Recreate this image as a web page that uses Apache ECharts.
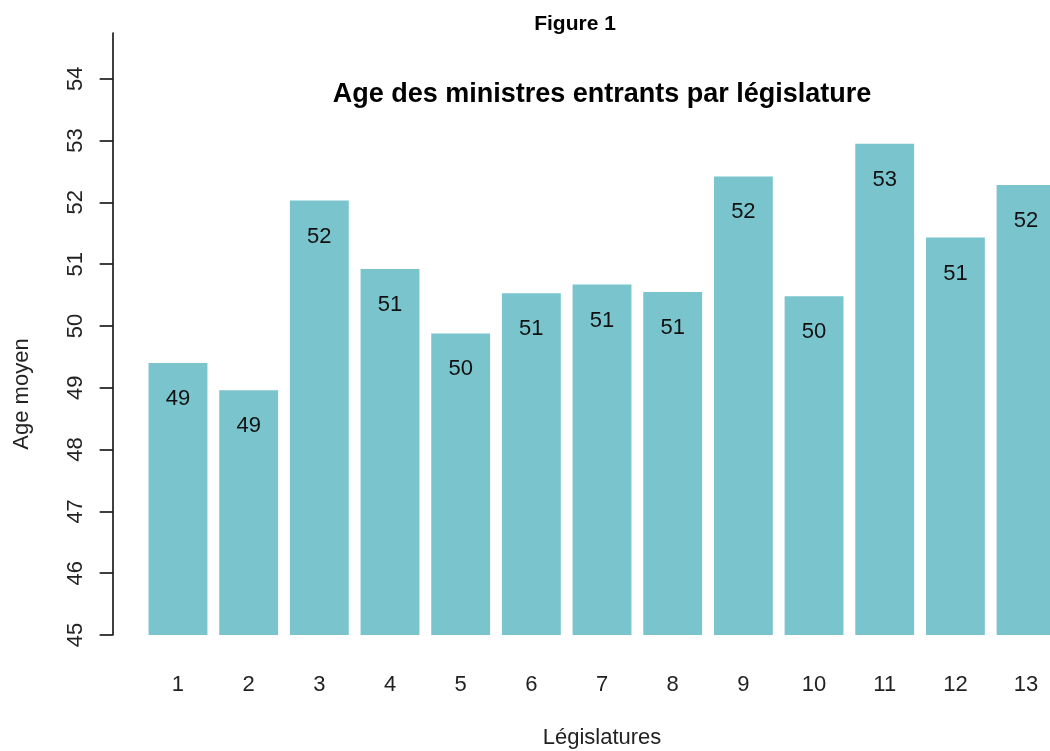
<!DOCTYPE html>
<html>
<head>
<meta charset="utf-8">
<script src="https://cdn.jsdelivr.net/npm/echarts@6/dist/echarts.min.js"></script>
<style>
    html, body {margin: 0; padding: 0; background: #fff;}
    #chart {width: 1050px; height: 751px;}
</style>
</head>
<body>
<div id="chart"></div>
<script>
var legislatures = ['1', '2', '3', '4', '5', '6', '7', '8', '9', '10', '11', '12', '13'];
var ageMoyen = [49.40, 48.96, 52.03, 50.92, 49.88, 50.53, 50.67, 50.55, 52.42, 50.48, 52.95, 51.43, 52.28];
var yTicks = [45, 46, 47, 48, 49, 50, 51, 52, 53, 54];

var font = 'Liberation Sans, Arial, sans-serif';
var chart = echarts.init(document.getElementById('chart'));

chart.setOption({
    animation: false,
    graphic: [
        {type: 'text', x: 575, y: 24, style: {text: 'Figure 1', font: 'bold 21px ' + font, fill: '#000', align: 'center', verticalAlign: 'middle'}},
        {type: 'text', x: 602, y: 95, style: {text: 'Age des ministres entrants par législature', font: 'bold 27px ' + font, fill: '#000', align: 'center', verticalAlign: 'middle'}},
        {type: 'text', x: 602, y: 738, style: {text: 'Législatures', font: '22px ' + font, fill: '#222', align: 'center', verticalAlign: 'middle'}},
        {type: 'text', x: 22, y: 394, rotation: Math.PI / 2, style: {text: 'Age moyen', font: '22px ' + font, fill: '#222', align: 'center', verticalAlign: 'middle'}}
    ],
    grid: {left: 142.65, top: 33, width: 918.75, height: 602, containLabel: false, outerBoundsMode: 'none'},
    xAxis: {
        type: 'category',
        data: legislatures,
        axisLine: {show: false},
        axisTick: {show: false},
        axisLabel: {fontFamily: font, fontSize: 22, color: '#222', margin: 39}
    },
    yAxis: {
        type: 'value',
        min: 45,
        max: 54.74,
        interval: 1,
        offset: 30,
        splitLine: {show: false},
        axisLine: {show: true, lineStyle: {color: '#000', width: 1.5}},
        axisTick: {show: true, length: 13, lineStyle: {color: '#000', width: 1.5}, customValues: yTicks},
        axisLabel: {fontFamily: font, fontSize: 22, color: '#222', rotate: 90, margin: 26, customValues: yTicks}
    },
    series: [{
        type: 'bar',
        data: ageMoyen,
        barCategoryGap: '16.7%',
        itemStyle: {color: '#7AC5CD'},
        label: {
            show: true,
            position: 'insideTop',
            distance: 25,
            fontFamily: font,
            fontSize: 22,
            color: '#111',
            formatter: function (p) { return Math.round(p.value); }
        }
    }]
});
</script>
</body>
</html>
